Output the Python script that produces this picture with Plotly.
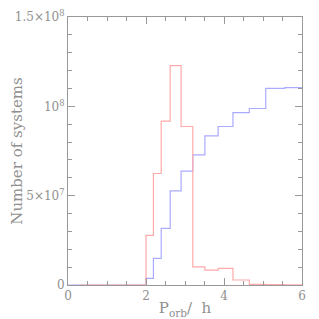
import plotly.graph_objects as go

# bin edges in P_orb (h)
edges = [2.0, 2.19, 2.39, 2.62, 2.9, 3.2, 3.51, 3.85, 4.23, 4.65, 5.07, 5.56, 6.05]
# counts per bin (systems)
red_counts = [27.8e6, 62.4e6, 91.7e6, 122.8e6, 88.7e6, 10.2e6, 8.3e6, 9.3e6, 2.8e6, 0.4e6, 0.2e6, 0.1e6]
blue_counts = [3.7e6, 14.9e6, 31.7e6, 52.7e6, 63.7e6, 72.8e6, 83.5e6, 88.7e6, 96.5e6, 98.8e6, 110.0e6, 110.5e6]
red_start = 0.3
blue_start = 0.0

xtick_vals = [0, 2, 4, 6]
xtick_text = ["0", "2", "4", "6"]
ytick_vals = [0, 5e7, 1e8, 1.5e8]
ytick_text = ["0", "5×10<sup>7</sup>", "10<sup>8</sup>", "1.5×10<sup>8</sup>"]

FONT = "DejaVu Serif"
TXT = "#909090"


def step(start, edges, counts):
    xs = [start] + edges
    ys = [0] + counts + [counts[-1]]
    return xs, ys


fig = go.Figure()
bx, by = step(blue_start, edges, blue_counts)
rx, ry = step(red_start, edges, red_counts)
fig.add_trace(go.Scatter(x=bx, y=by, mode="lines", line=dict(shape="hv", color="#aaaaff", width=1.2),
                         showlegend=False, hoverinfo="skip"))
fig.add_trace(go.Scatter(x=rx, y=ry, mode="lines", line=dict(shape="hv", color="#ffaaaa", width=1.2),
                         showlegend=False, hoverinfo="skip"))

axis_common = dict(
    showline=True, linecolor="#999999", linewidth=1, mirror="allticks",
    ticks="inside", tickcolor="#999999", showgrid=False, zeroline=False,
    automargin=False,
    tickfont=dict(family=FONT, size=12, color=TXT),
)

fig.update_xaxes(range=[0, 6], tickmode="array", tickvals=xtick_vals, ticktext=xtick_text,
                 ticklen=7, tickwidth=1,
                 minor=dict(dtick=0.5, tick0=0, ticks="inside", ticklen=4, tickcolor="#999999"),
                 title=dict(text="P<sub>orb</sub>/  h", standoff=0,
                            font=dict(family=FONT, size=15, color=TXT)),
                 **axis_common)
fig.update_yaxes(range=[0, 1.5e8], tickmode="array", tickvals=ytick_vals, ticktext=ytick_text,
                 ticklen=7, tickwidth=1,
                 minor=dict(dtick=1e7, tick0=0, ticks="inside", ticklen=4, tickcolor="#999999"),
                 title=dict(text="Number of systems", standoff=10,
                            font=dict(family=FONT, size=15, color=TXT)),
                 **axis_common)

# page body has an 8px default margin, so the figure is sized to fit the 319px window
fig.update_layout(width=311, height=311, margin=dict(l=60, r=17, t=9, b=34),
                  plot_bgcolor="white", paper_bgcolor="white")

fig.write_html("out.html")
